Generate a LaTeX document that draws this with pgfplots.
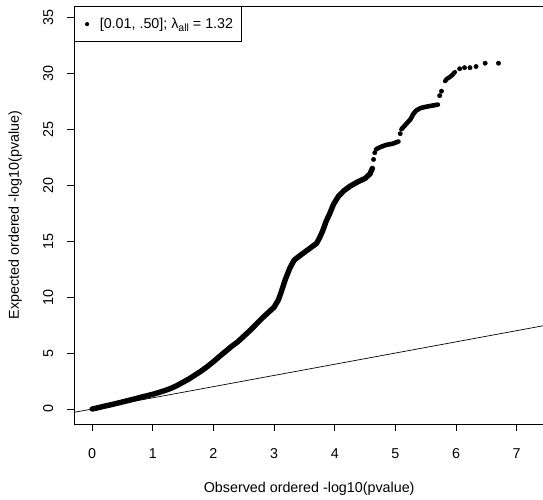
\documentclass[border=0pt]{standalone}
\usepackage{fontspec}
\setmainfont{Liberation Sans}
\usepackage{pgfplots}
\pgfplotsset{compat=1.18}
\newcommand{\rf}{\fontsize{14.3}{17}\selectfont}
\begin{document}
\begin{tikzpicture}
\begin{axis}[
  at={(0,0)}, anchor=south west,
  scale only axis, width=491pt, height=418pt,
  xmin=-0.30, xmax=7.797, ymin=-1.34, ymax=36.01,
  axis line style={black, line width=0.8pt},
  xtick={0,1,2,3,4,5,6,7}, ytick={0,5,10,15,20,25,30,35},
  xtick pos=bottom, ytick pos=left,
  tick align=outside, major tick length=7pt,
  tick style={black, line width=0.8pt},
  /pgf/number format/assume math mode=true,
  ticklabel style={font=\rf},
  yticklabel style={rotate=90, anchor=south, inner ysep=13.5pt},
  xticklabel style={anchor=north, inner ysep=17.5pt},
  label style={font=\rf},
  xlabel={Observed ordered -log10(pvalue)},
  ylabel={Expected ordered -log10(pvalue)},
  xlabel style={at={(axis description cs:0.479,-0.1555)}, anchor=center},
  ylabel style={at={(axis description cs:-0.120,0.5)}, anchor=center},
  legend style={at={(axis description cs:0,1)}, anchor=north west, draw=black, line width=0.8pt,
    inner xsep=0pt, inner ysep=0pt, font=\rf,
    cells={anchor=west, inner sep=0pt, minimum height=35.5pt}},
  legend image code/.code={\path (0pt,0pt) (18pt,0pt); \path[fill=black, draw=none] (10pt,0pt) circle (2.1pt);},
]
\addplot[black, line width=0.7pt, forget plot] coordinates {(-1,-1) (9,9)};
\addplot[black, line width=5.4pt, line cap=round, line join=round] table {
x y
0 0.0
0.1 0.12
0.2 0.25
0.3 0.37
0.4 0.5
0.5 0.63
0.6 0.77
0.7 0.9
0.8 1.05
0.9 1.18
1.0 1.32
1.1 1.48
1.2 1.65
1.3 1.85
1.4 2.1
1.5 2.4
1.6 2.7
1.7 3.05
1.8 3.4
1.9 3.8
2.0 4.23
2.1 4.7
2.2 5.15
2.3 5.6
2.4 6.0
2.5 6.5
2.6 7.0
2.7 7.55
2.8 8.1
2.9 8.6
3.0 9.1
3.07 9.74
3.12 10.5
3.18 11.5
3.26 12.6
3.33 13.3
3.4 13.6
3.5 14.0
3.6 14.4
3.7 14.8
3.75 15.3
3.8 15.9
3.86 16.8
3.92 17.5
3.98 18.3
4.06 19.0
4.15 19.5
4.25 19.9
4.38 20.3
4.5 20.6
4.58 21.0
4.62 21.5
};
\addlegendentry{[0.01, .50]; λ\raisebox{-3pt}{\fontsize{10.5}{12}\selectfont all} = 1.32\rule{6pt}{0pt}}
\addplot[black, line width=4.6pt, line cap=round, line join=round, forget plot] table {
x y
4.68 23.2
4.75 23.4
4.85 23.6
4.95 23.7
5.05 23.9
};
\addplot[black, line width=4.6pt, line cap=round, line join=round, forget plot] table {
x y
5.1 25.0
5.15 25.3
5.2 25.6
5.25 25.9
5.3 26.4
5.35 26.7
5.42 26.9
5.5 27.0
5.6 27.1
5.7 27.2
};
\addplot[black, line width=4.4pt, line cap=round, line join=round, forget plot] table {
x y
5.82 29.3
5.85 29.5
5.88 29.6
5.93 29.8
5.98 30.1
};
\addplot[only marks, mark=*, mark size=2.2pt, black, forget plot] table {
x y
4.64 22.3
4.66 22.9
5.08 24.6
5.73 28.0
5.76 28.4
6.06 30.4
6.14 30.5
6.23 30.5
6.33 30.6
6.48 30.9
6.70 30.9
};
\end{axis}
\pgfresetboundingbox
\path[use as bounding box] (-74pt,-76pt) rectangle (469pt,424pt);
\end{tikzpicture}
\end{document}
